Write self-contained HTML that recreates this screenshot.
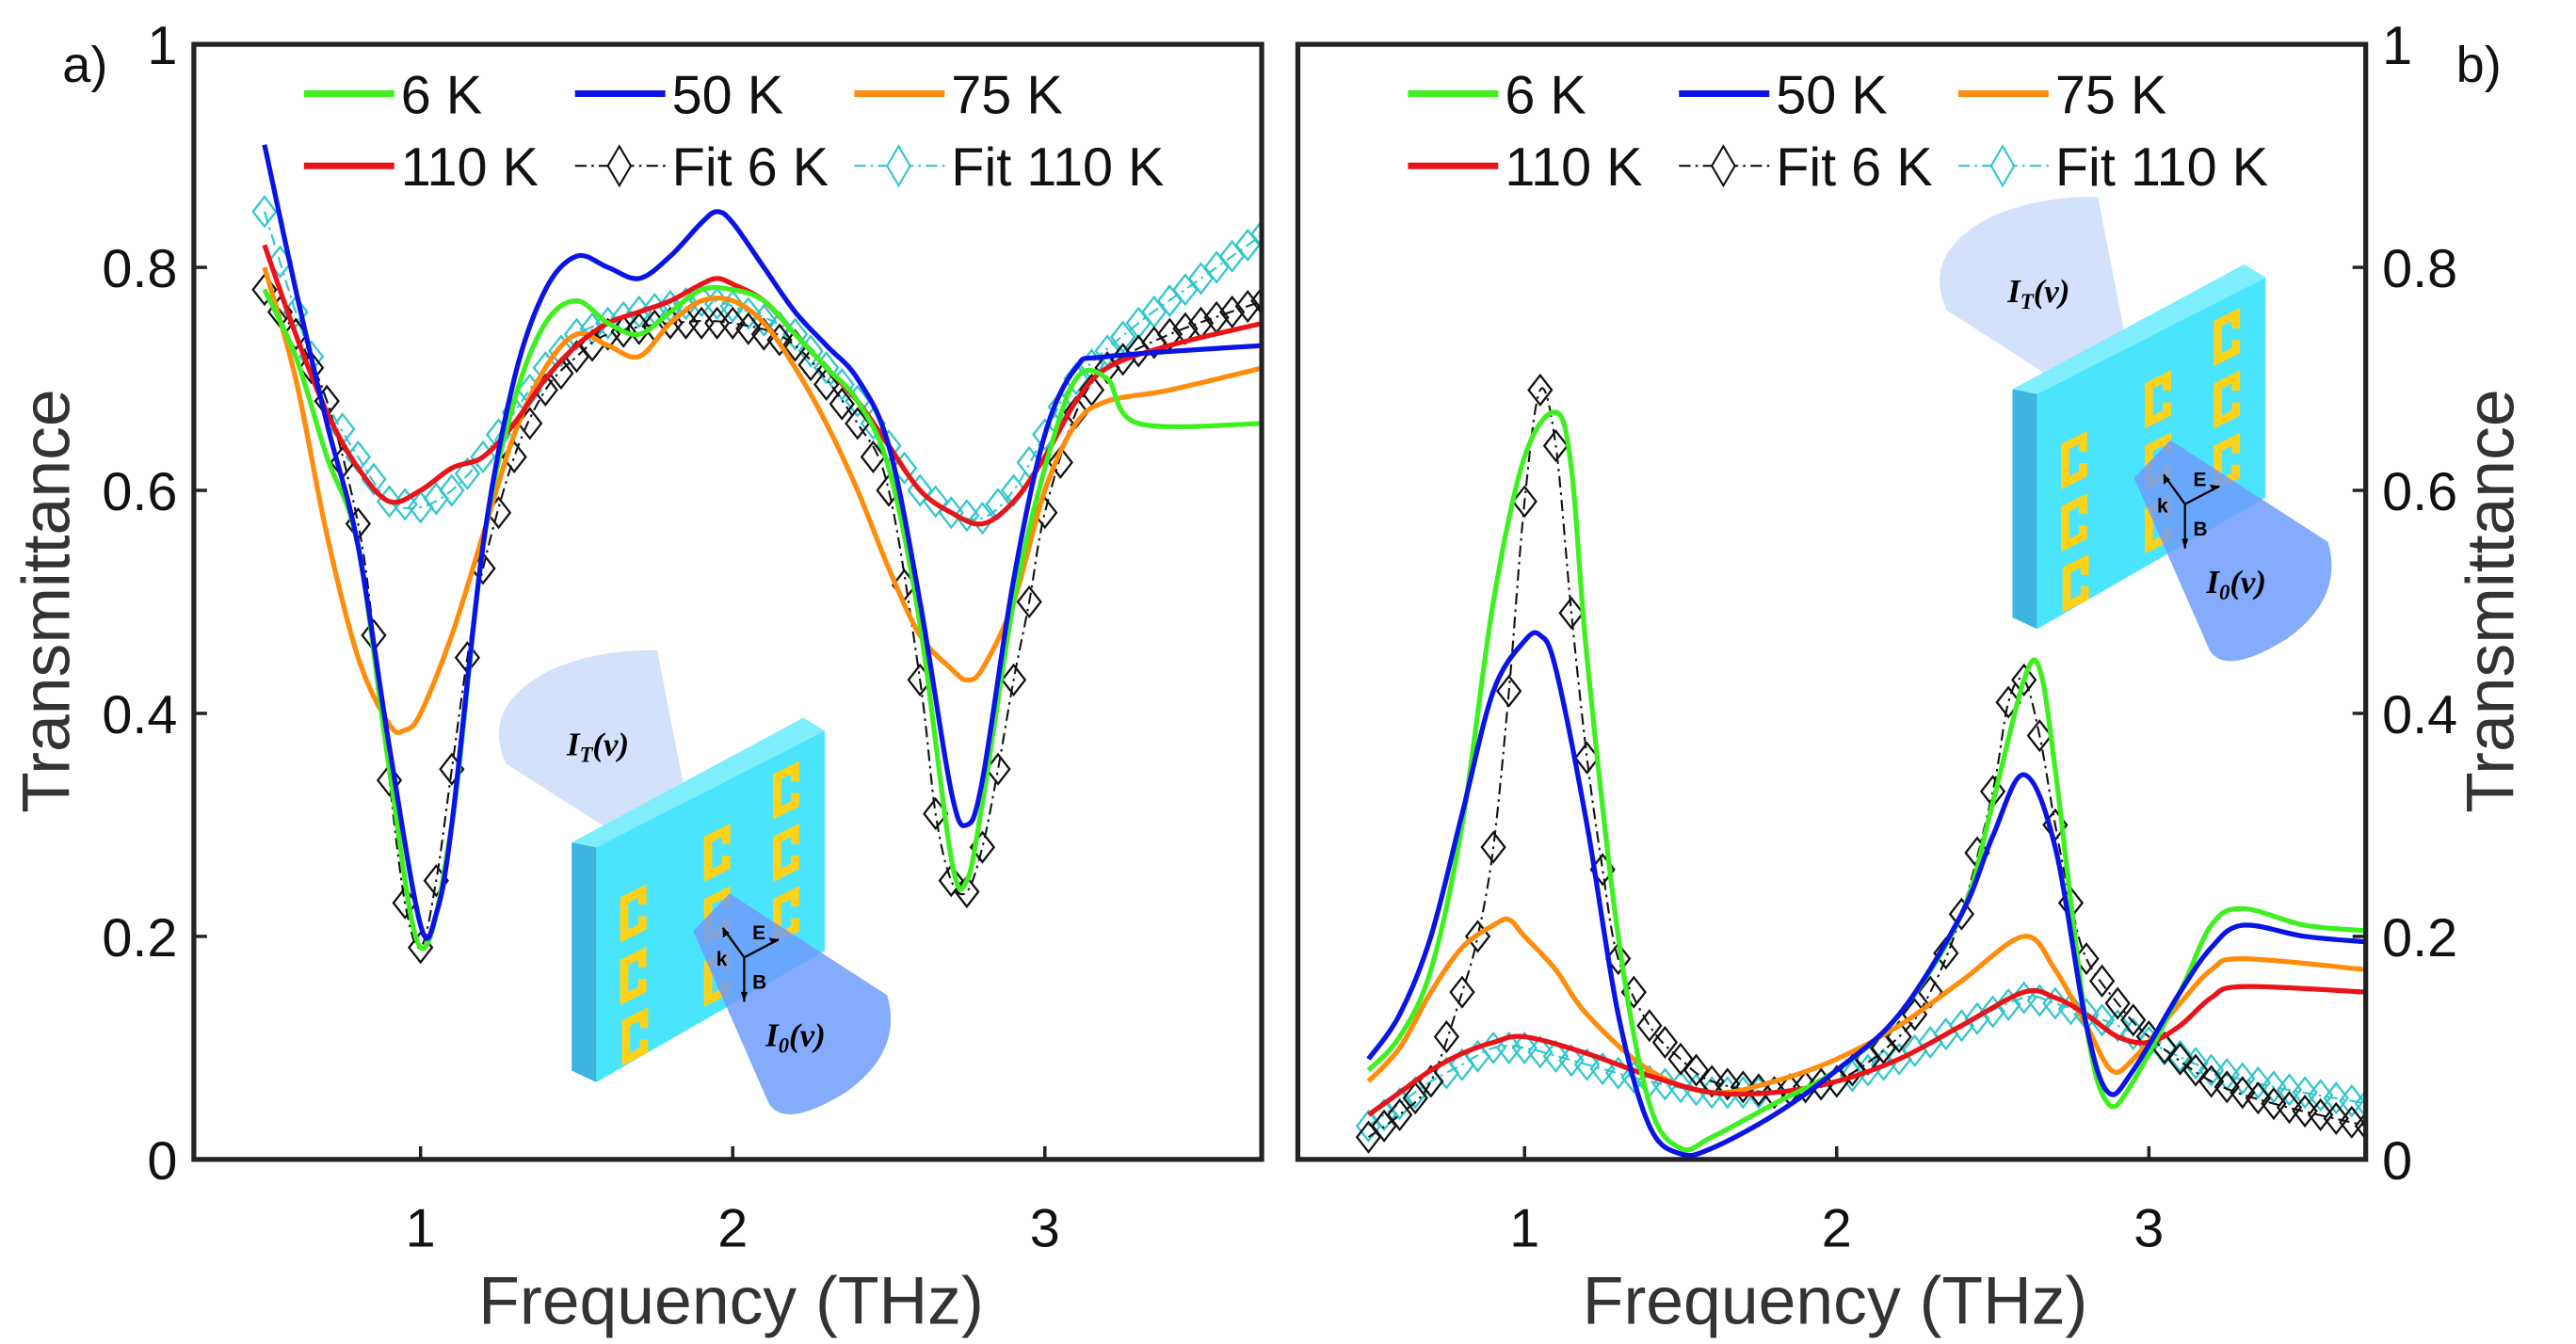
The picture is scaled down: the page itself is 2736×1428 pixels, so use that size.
<!DOCTYPE html>
<html><head><meta charset="utf-8">
<style>
html,body{margin:0;padding:0;background:#fff;}
svg{display:block;font-family:"Liberation Sans",Arial,sans-serif;}
</style></head>
<body>
<svg id="fig" width="2736" height="1428" viewBox="0 0 1568 818.4" preserveAspectRatio="none" xmlns="http://www.w3.org/2000/svg">
<defs>
<g id="srr"><path d="M11 3 L11 -5.5 L0 0 L0 22 L11 16.5 L11 10" fill="none" stroke="#ffd21a" stroke-width="5"/></g>
<g id="inset">
  <path d="M372 506 L308 465 Q292 430 335 408 Q365 395 400 396 L420 498 Z" fill="#d3e1fb"/>
  <polygon points="348,513 489,437 502,445 363,516" fill="#7eeefd"/>
  <polygon points="348,513 363,516 363,659 348,652" fill="#3cb6e0"/>
  <polygon points="363,516 502,445 502,579 363,659" fill="#4ae4fd"/>
  <use href="#srr" x="380" y="548"/>
  <use href="#srr" x="380" y="586"/>
  <use href="#srr" x="381" y="623"/>
  <use href="#srr" x="431" y="511"/>
  <use href="#srr" x="431" y="549"/>
  <use href="#srr" x="431" y="587"/>
  <use href="#srr" x="473" y="473"/>
  <use href="#srr" x="473" y="511"/>
  <use href="#srr" x="473" y="549"/>
  <path d="M422 567 L444 544 L540 606 Q550 640 515 665 Q478 688 468 672 Z" fill="#6f9cfb" fill-opacity="0.85"/>
  <g stroke="#000" stroke-width="1.3" fill="none">
    <line x1="453" y1="583" x2="440" y2="565"/>
    <line x1="453" y1="583" x2="474" y2="572"/>
    <line x1="453" y1="583" x2="453" y2="610"/>
  </g>
  <g fill="#000">
    <polygon points="440,565 440,571 444,568"/>
    <polygon points="474,572 468,571 470,575"/>
    <polygon points="453,610 451,604 455,604"/>
  </g>
  <text x="436" y="588" font-size="12" font-weight="bold">k</text>
  <text x="458" y="572" font-size="12" font-weight="bold">E</text>
  <text x="458" y="602" font-size="12" font-weight="bold">B</text>
</g>
</defs>
</svg>
<script>
// ---- data: panel a ----
const a_x6   = [0.5,0.6,0.7,0.8,0.9,1.0,1.1,1.2,1.3,1.4,1.5,1.6,1.7,1.8,1.9,2.0,2.1,2.2,2.3,2.4,2.5,2.6,2.7,2.75,2.8,2.9,3.0,3.1,3.2,3.3,3.7];
const a_y6   = [0.78,0.72,0.63,0.55,0.35,0.19,0.3,0.55,0.68,0.75,0.77,0.75,0.74,0.76,0.78,0.78,0.77,0.74,0.71,0.68,0.62,0.48,0.27,0.25,0.32,0.5,0.62,0.7,0.7,0.66,0.66];
const a_x50  = [0.5,0.6,0.7,0.8,0.9,1.0,1.05,1.1,1.2,1.3,1.4,1.5,1.6,1.7,1.8,1.9,1.95,2.0,2.1,2.2,2.3,2.4,2.5,2.6,2.7,2.75,2.8,2.9,3.0,3.1,3.2,3.7];
const a_y50  = [0.91,0.78,0.66,0.55,0.37,0.21,0.22,0.3,0.55,0.7,0.78,0.81,0.8,0.79,0.81,0.84,0.85,0.84,0.8,0.76,0.73,0.7,0.64,0.5,0.33,0.3,0.34,0.52,0.65,0.71,0.72,0.73];
const a_x75  = [0.5,0.6,0.7,0.8,0.9,0.95,1.0,1.1,1.2,1.3,1.4,1.5,1.6,1.7,1.8,1.9,2.0,2.1,2.2,2.3,2.4,2.5,2.6,2.7,2.75,2.8,2.9,3.0,3.1,3.2,3.4,3.7];
const a_y75  = [0.8,0.7,0.56,0.45,0.39,0.385,0.4,0.47,0.56,0.65,0.71,0.74,0.73,0.72,0.75,0.77,0.77,0.75,0.71,0.66,0.6,0.53,0.47,0.44,0.43,0.44,0.5,0.6,0.66,0.68,0.69,0.71];
const a_x110 = [0.5,0.6,0.7,0.8,0.9,1.0,1.1,1.2,1.3,1.4,1.5,1.6,1.7,1.8,1.9,1.95,2.0,2.1,2.2,2.3,2.4,2.5,2.6,2.7,2.8,2.9,3.0,3.1,3.2,3.4,3.7];
const a_y110 = [0.82,0.74,0.67,0.62,0.59,0.6,0.62,0.63,0.66,0.7,0.73,0.75,0.76,0.77,0.785,0.79,0.785,0.77,0.74,0.71,0.68,0.64,0.6,0.58,0.57,0.59,0.63,0.68,0.71,0.73,0.75];
const a_xf6  = [0.5,0.6,0.7,0.8,0.85,0.9,0.95,1.0,1.05,1.1,1.15,1.2,1.3,1.4,1.5,1.6,1.8,2.0,2.2,2.4,2.5,2.6,2.65,2.7,2.75,2.8,2.85,2.9,2.95,3.0,3.1,3.2,3.4,3.7];
const a_yf6  = [0.78,0.74,0.68,0.57,0.47,0.34,0.23,0.19,0.25,0.35,0.45,0.53,0.63,0.69,0.72,0.74,0.75,0.75,0.73,0.66,0.6,0.43,0.31,0.25,0.24,0.28,0.35,0.43,0.5,0.58,0.67,0.71,0.74,0.77];
const a_xf110= [0.5,0.6,0.7,0.8,0.9,1.0,1.1,1.2,1.3,1.4,1.5,1.7,1.9,2.0,2.2,2.4,2.5,2.6,2.7,2.8,2.9,3.0,3.1,3.3,3.5,3.7];
const a_yf110= [0.85,0.76,0.68,0.63,0.59,0.585,0.6,0.63,0.67,0.71,0.74,0.76,0.77,0.765,0.74,0.68,0.64,0.6,0.58,0.575,0.6,0.65,0.7,0.75,0.79,0.83];
// ---- data: panel b ----
const b_x6   = [0.5,0.6,0.7,0.8,0.9,1.0,1.1,1.15,1.2,1.3,1.4,1.5,1.6,1.8,2.0,2.2,2.4,2.5,2.6,2.65,2.7,2.8,2.87,2.95,3.1,3.2,3.3,3.5,3.7];
const b_y6   = [0.08,0.11,0.17,0.3,0.5,0.63,0.67,0.62,0.45,0.2,0.05,0.01,0.02,0.05,0.08,0.13,0.22,0.32,0.43,0.44,0.35,0.12,0.05,0.07,0.15,0.21,0.225,0.21,0.205];
const b_x50  = [0.5,0.6,0.7,0.8,0.9,1.0,1.05,1.1,1.2,1.3,1.4,1.5,1.6,1.8,2.0,2.2,2.4,2.5,2.6,2.7,2.8,2.87,2.95,3.1,3.2,3.3,3.5,3.7];
const b_y50  = [0.09,0.13,0.2,0.31,0.42,0.465,0.47,0.44,0.3,0.13,0.03,0.005,0.01,0.04,0.08,0.13,0.22,0.29,0.345,0.28,0.12,0.06,0.08,0.15,0.19,0.21,0.2,0.195];
const b_x75  = [0.5,0.6,0.7,0.8,0.9,0.95,1.0,1.1,1.2,1.4,1.6,1.8,2.0,2.2,2.4,2.6,2.7,2.8,2.88,2.95,3.1,3.2,3.3,3.7];
const b_y75  = [0.07,0.1,0.15,0.19,0.21,0.215,0.2,0.17,0.13,0.08,0.06,0.07,0.09,0.12,0.16,0.2,0.17,0.12,0.08,0.09,0.14,0.17,0.18,0.17];
const b_x110 = [0.5,0.6,0.7,0.8,0.9,1.0,1.2,1.4,1.6,1.8,2.0,2.2,2.4,2.6,2.7,2.8,2.9,3.0,3.1,3.2,3.3,3.7];
const b_y110 = [0.04,0.06,0.08,0.095,0.105,0.11,0.095,0.075,0.06,0.06,0.07,0.09,0.12,0.15,0.145,0.13,0.11,0.105,0.12,0.145,0.155,0.15];
const b_xf6  = [0.5,0.6,0.7,0.8,0.85,0.9,0.95,1.0,1.05,1.1,1.15,1.2,1.25,1.3,1.4,1.5,1.6,1.8,2.0,2.2,2.3,2.4,2.5,2.55,2.6,2.65,2.7,2.75,2.8,2.9,3.0,3.2,3.4,3.7];
const b_yf6  = [0.02,0.04,0.07,0.15,0.2,0.28,0.42,0.59,0.69,0.64,0.49,0.36,0.26,0.18,0.12,0.09,0.07,0.06,0.07,0.11,0.15,0.22,0.33,0.41,0.43,0.38,0.3,0.23,0.18,0.14,0.11,0.07,0.05,0.03];
const b_xf110= [0.5,0.6,0.7,0.8,0.9,1.0,1.2,1.4,1.6,1.8,2.0,2.2,2.4,2.6,2.7,2.9,3.0,3.2,3.4,3.7];
const b_yf110= [0.03,0.05,0.07,0.085,0.1,0.1,0.085,0.07,0.06,0.06,0.07,0.09,0.12,0.145,0.14,0.12,0.105,0.08,0.065,0.05];
const xTicks = [1,2,3];
const yTicks = [0,0.2,0.4,0.6,0.8,1];
const yTickLabels = ["0","0.2","0.4","0.6","0.8","1"];
const legendLabels = ["6 K","50 K","75 K","110 K","Fit 6 K","Fit 110 K"];

const NS="http://www.w3.org/2000/svg";
const svg=document.getElementById('fig');
function mk(tag,attrs,parent){const e=document.createElementNS(NS,tag);for(const k in attrs)e.setAttribute(k,attrs[k]);(parent||svg).appendChild(e);return e;}
const C={g:"#3ef01f",b:"#0a14e6",o:"#ff8c0a",r:"#e8141a",k:"#111",c:"#30c6cc"};
const Y0=706,Y1=27;
function yS(v){return Y0+(Y1-Y0)*v;}
function interp(xs,ys,x){for(let i=0;i<xs.length-1;i++){if(x>=xs[i]&&x<=xs[i+1]){const t=(x-xs[i])/(xs[i+1]-xs[i]);return ys[i]+t*(ys[i+1]-ys[i]);}}return ys[ys.length-1];}
function smooth(pts){let d="M"+pts[0][0]+" "+pts[0][1];for(let i=0;i<pts.length-1;i++){const p0=pts[Math.max(0,i-1)],p1=pts[i],p2=pts[i+1],p3=pts[Math.min(pts.length-1,i+2)];const c1=[p1[0]+(p2[0]-p0[0])/6,p1[1]+(p2[1]-p0[1])/6],c2=[p2[0]-(p3[0]-p1[0])/6,p2[1]-(p3[1]-p1[1])/6];d+=" C"+c1[0].toFixed(2)+" "+c1[1].toFixed(2)+" "+c2[0].toFixed(2)+" "+c2[1].toFixed(2)+" "+p2[0].toFixed(2)+" "+p2[1].toFixed(2);}return d;}

function panel(id,L,R,t1,side,data,insetDx,insetDy,lgDx){
  const xS=v=>t1+(v-1)*190;
  const g=mk('g',{});
  
  
  const clipId='clip'+id;
  const cp=mk('clipPath',{id:clipId},g);mk('rect',{x:L,y:Y1,width:R-L,height:Y0-Y1},cp);
  const ins=mk('use',{href:'#inset',transform:'translate('+insetDx+','+insetDy+')'},g);
  
  
  const itx=mk('text',{x:345+insetDx,y:460+insetDy,'font-size':20,'font-family':'Liberation Serif,serif','font-weight':'bold','font-style':'italic'},g);
  itx.innerHTML='I<tspan font-size="13" dy="4">T</tspan><tspan dy="-4">(ν)</tspan>';
  
  
  const i0=mk('text',{x:466+insetDx,y:637+insetDy,'font-size':20,'font-family':'Liberation Serif,serif','font-weight':'bold','font-style':'italic'},g);
  i0.innerHTML='I<tspan font-size="13" dy="4">0</tspan><tspan dy="-4">(ν)</tspan>';
  
  
  const pg=mk('g',{'clip-path':'url(#'+clipId+')'},g);
  const series=[
    {k:'fit-110k',xs:data[5][0],ys:data[5][1],col:C.c,fit:true},
    {k:'fit-6k',xs:data[4][0],ys:data[4][1],col:C.k,fit:true},
    {k:'75k',xs:data[2][0],ys:data[2][1],col:C.o},
    {k:'110k',xs:data[3][0],ys:data[3][1],col:C.r},
    {k:'6k',xs:data[0][0],ys:data[0][1],col:C.g},
    {k:'50k',xs:data[1][0],ys:data[1][1],col:C.b},
  ];
  series.forEach(s=>{
    const pts=s.xs.map((x,i)=>[xS(x),yS(s.ys[i])]);
    if(s.fit){
      const p=mk('path',{d:smooth(pts),fill:'none',stroke:s.col,'stroke-width':1.2,'stroke-dasharray':'7 3 1.5 3'},pg);
      
      
      for(let x=0.5;x<=3.701;x+=0.05){
        const v=interp(s.xs,s.ys,x);const cx=xS(x),cy=yS(v);
        const m=mk('polygon',{points:(cx)+','+(cy-9)+' '+(cx+7)+','+cy+' '+cx+','+(cy+9)+' '+(cx-7)+','+cy,fill:'none',stroke:s.col,'stroke-width':1.3},pg);
        
        
      }
    } else {
      const p=mk('path',{d:smooth(pts),fill:'none',stroke:s.col,'stroke-width':3,'stroke-linejoin':'round'},pg);
      
      
    }
  });
  const box=mk('rect',{x:L,y:Y1,width:R-L,height:Y0-Y1,fill:'none',stroke:'#222','stroke-width':3},g);
  
  
  xTicks.forEach(t=>{
    const x=xS(t);
    const tk=mk('line',{x1:x,y1:Y0,x2:x,y2:Y0-8,stroke:'#222','stroke-width':2},g);
    
    
    const tl=mk('text',{x:x,y:Y0+53,'font-size':33,'text-anchor':'middle',fill:'#111'},g);
    tl.textContent=t;
    
    
  });
  yTicks.forEach((t,i)=>{
    const y=yS(t);
    const ax=side==='left'?L:R;
    const dir=side==='left'?1:-1;
    const tk=mk('line',{x1:ax,y1:y,x2:ax+dir*8,y2:y,stroke:'#222','stroke-width':2},g);
    
    
    const tl=mk('text',{x:side==='left'?L-10:R+10,y:y+12,'font-size':33,'text-anchor':side==='left'?'end':'start',fill:'#111'},g);
    tl.textContent=yTickLabels[i];
    
    
  });
  const xt=mk('text',{x:(L+R)/2+2,y:806,'font-size':41,'text-anchor':'middle',fill:'#333'},g);
  xt.textContent='Frequency (THz)';
  
  
  const yx=side==='left'?42:1530;
  const yt=mk('text',{x:yx,y:366,'font-size':41,'text-anchor':'middle',fill:'#333',transform:'rotate(-90 '+yx+' 366)'},g);
  yt.textContent='Transmittance';
  
  
  const lg=mk('g',{},g);
  
  
  const lx=[185,350,520], ly=[57,101];
  const cols=[C.g,C.b,C.o,C.r,C.k,C.c];
  legendLabels.forEach((lab,i)=>{
    const x0=lx[i%3]+lgDx, y=ly[Math.floor(i/3)];
    const e=mk('g',{},lg);
    
    
    if(i<4){mk('line',{x1:x0,y1:y,x2:x0+55,y2:y,stroke:cols[i],'stroke-width':4},e);}
    else{
      mk('line',{x1:x0,y1:y,x2:x0+55,y2:y,stroke:cols[i],'stroke-width':1.2,'stroke-dasharray':'7 3 1.5 3'},e);
      const cx=x0+27;mk('polygon',{points:cx+','+(y-12)+' '+(cx+7)+','+y+' '+cx+','+(y+12)+' '+(cx-7)+','+y,fill:'#fff',stroke:cols[i],'stroke-width':1.2},e);
    }
    const t=mk('text',{x:x0+59,y:y+12,'font-size':33,fill:'#111'},e);
    t.textContent=lab;
  });
}
panel('a',118,768,256,'left',[[a_x6,a_y6],[a_x50,a_y50],[a_x75,a_y75],[a_x110,a_y110],[a_xf6,a_yf6],[a_xf110,a_yf110]],0,0,0);
panel('b',790,1440,928,'right',[[b_x6,b_y6],[b_x50,b_y50],[b_x75,b_y75],[b_x110,b_y110],[b_xf6,b_yf6],[b_xf110,b_yf110]],877,-276,672);
const pa=mk('text',{x:38,y:50,'font-size':31,fill:'#111'});pa.textContent='a)';


const pb=mk('text',{x:1495,y:50,'font-size':31,fill:'#111'});pb.textContent='b)';


</script>
</body></html>
